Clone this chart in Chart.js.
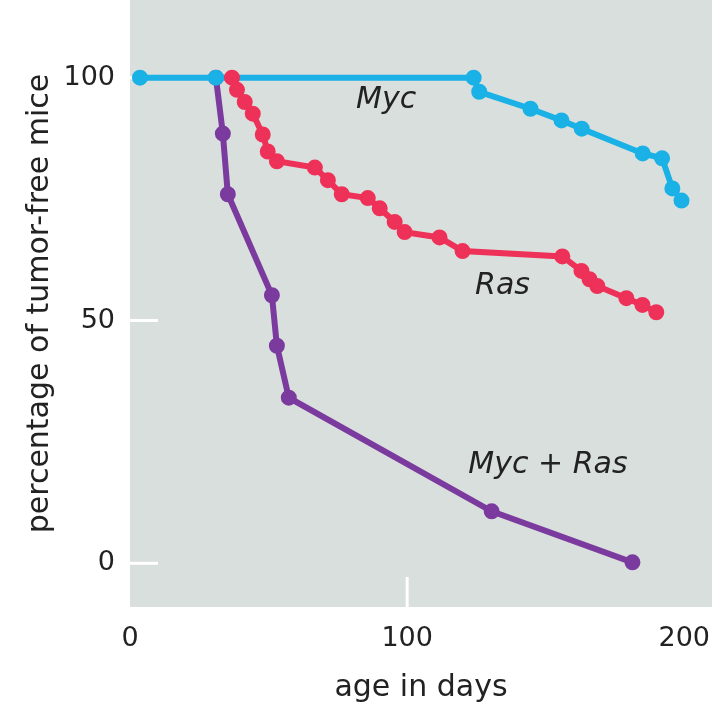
<!DOCTYPE html>
<html>
<head>
<meta charset="utf-8">
<script src="https://cdn.jsdelivr.net/npm/chart.js@4"></script>
<style>
  body { margin: 0; background: #ffffff; overflow: hidden; }
  #wrap { width: 725px; height: 733px; margin-top: -9px; }
</style>
</head>
<body>
<div id="wrap"><canvas id="survivalChart"></canvas></div>
<script>
// values
const mycDays = [3.6, 31, 124, 126, 144.5, 155.7, 163, 185, 192, 195.7, 199];
const mycValues = [100, 100, 100, 97.1, 93.6, 91.2, 89.5, 84.4, 83.4, 77.2, 74.7];

const rasDays = [36.8, 38.6, 41.4, 44.3, 47.9, 49.7, 53, 66.7, 71.4, 76.4, 85.8, 90.1,
    95.5, 99.1, 111.7, 120, 156, 162.9, 165.8, 168.6, 179.1, 184.9, 189.9];
const rasValues = [100, 97.5, 95, 92.6, 88.3, 84.8, 82.8, 81.5, 78.9, 76, 75.2, 73.1,
    70.3, 68.2, 67.1, 64.3, 63.2, 60.2, 58.5, 57.1, 54.6, 53.2, 51.7];

const comboDays = [31, 33.5, 35.3, 51.2, 53, 57.3, 130.5, 181.3];
const comboValues = [100, 88.5, 76, 55.2, 44.8, 34.1, 10.7, 0.2];

const xTicks = [0, 100, 200];
const yTicks = [0, 50, 100];
const xTickMarks = [100];
const yTickMarks = [0, 50, 100];

const labelTexts = ["Myc", "Ras", "Myc + Ras"];
const labelDays = [92.4, 134.4, 150.8];
const labelValues = [93.8, 55.4, 18.5];

const FONT = "'DejaVu Sans', sans-serif";

function toPoints(xs, ys) {
    return xs.map((x, i) => ({ x: x, y: ys[i] }));
}

function lineSet(label, xs, ys, color) {
    return {
        label: label,
        data: toPoints(xs, ys),
        borderColor: color,
        backgroundColor: color,
        pointBackgroundColor: color,
        pointBorderColor: color,
        borderWidth: 6,
        pointRadius: 7,
        pointBorderWidth: 2,
        tension: 0,
        fill: false
    };
}

function noPadding(s) {
    s.paddingTop = 0;
    s.paddingBottom = 0;
    s.paddingLeft = 0;
    s.paddingRight = 0;
}

const plotBackground = {
    id: "plotBackground",
    beforeDraw(chart) {
        const { ctx, chartArea, scales } = chart;
        ctx.save();
        ctx.fillStyle = "#d9dfdc";
        ctx.fillRect(chartArea.left, chartArea.top,
            chartArea.right - chartArea.left, chartArea.bottom - chartArea.top);
        ctx.strokeStyle = "#ffffff";
        ctx.lineWidth = 3;
        yTickMarks.forEach(v => {
            const y = scales.y.getPixelForValue(v);
            ctx.beginPath();
            ctx.moveTo(chartArea.left, y);
            ctx.lineTo(chartArea.left + 28, y);
            ctx.stroke();
        });
        xTickMarks.forEach(v => {
            const x = scales.x.getPixelForValue(v);
            ctx.beginPath();
            ctx.moveTo(x, chartArea.bottom);
            ctx.lineTo(x, chartArea.bottom - 30);
            ctx.stroke();
        });
        ctx.restore();
    }
};

const curveLabels = {
    id: "curveLabels",
    afterDatasetsDraw(chart) {
        const { ctx, scales } = chart;
        ctx.save();
        ctx.font = "italic 30px " + FONT;
        ctx.fillStyle = "#222222";
        ctx.textAlign = "center";
        ctx.textBaseline = "alphabetic";
        labelTexts.forEach((t, i) => {
            ctx.fillText(t,
                scales.x.getPixelForValue(labelDays[i]),
                scales.y.getPixelForValue(labelValues[i]));
        });
        ctx.restore();
    }
};

new Chart(
    document.getElementById("survivalChart").getContext("2d"),
    {
        type: "line",
        data: {
            datasets: [
                lineSet("Ras", rasDays, rasValues, "#ee3158"),
                lineSet("Myc", mycDays, mycValues, "#1ab1e6"),
                lineSet("Myc + Ras", comboDays, comboValues, "#7b3a9e")
            ]
        },
        options: {
            responsive: true,
            maintainAspectRatio: false,
            animation: false,
            layout: {
                padding: { left: 0, right: 13, top: 0, bottom: 0 }
            },
            plugins: {
                legend: { display: false },
                tooltip: { enabled: false }
            },
            scales: {
                x: {
                    type: "linear",
                    min: 0,
                    max: 210,
                    grid: { display: false, drawTicks: false },
                    border: { display: false },
                    afterBuildTicks: s => { s.ticks = xTicks.map(v => ({ value: v })); },
                    afterFit: s => { s.height = 117; noPadding(s); },
                    ticks: {
                        padding: 16,
                        color: "#222222",
                        font: { family: FONT, size: 27 }
                    },
                    title: {
                        display: true,
                        text: "age in days",
                        color: "#222222",
                        font: { family: FONT, size: 30 },
                        padding: { top: 0, bottom: 18 }
                    }
                },
                y: {
                    min: -9,
                    max: 116,
                    grid: { display: false, drawTicks: false },
                    border: { display: false },
                    afterBuildTicks: s => { s.ticks = yTicks.map(v => ({ value: v })); },
                    afterFit: s => { s.width = 130; noPadding(s); },
                    ticks: {
                        padding: 15,
                        color: "#222222",
                        font: { family: FONT, size: 27 }
                    },
                    title: {
                        display: true,
                        text: "percentage of tumor-free mice",
                        color: "#222222",
                        font: { family: FONT, size: 30 },
                        padding: { top: 22, bottom: 0 }
                    }
                }
            }
        },
        plugins: [plotBackground, curveLabels]
    }
);
</script>
</body>
</html>
